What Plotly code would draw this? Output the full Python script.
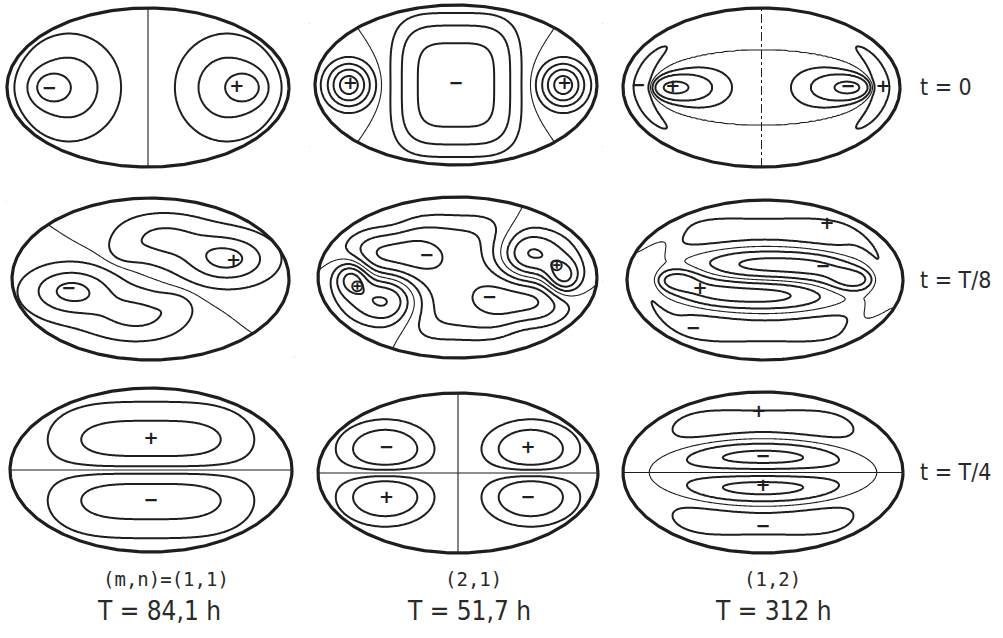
import numpy as np
import plotly.graph_objects as go

FIG_W, FIG_H = 1003, 638
INK = "#1e1e1e"

# ---------------------------------------------------------------------------
# Surface-elevation fields of the three basin modes, in normalised basin
# coordinates (u, v): the shoreline is u^2 + v^2 = 1.
# Lobe terms: (u0, v0, su, sv, angle_deg, pu, pv, amplitude)
# Ring terms (near-shore bands): (r0, width, theta0_deg, theta_width_deg, amplitude)
# ---------------------------------------------------------------------------

# mode (m,n) = (1,1)
M11_T0_LOBES = [(-0.70, 0.0, 0.13, 0.20, 0, 2, 2, -0.60),
                (-0.56, 0.0, 0.30, 0.55, 0, 2, 2, -0.55),
                (0.70, 0.0, 0.13, 0.20, 0, 2, 2, 0.60),
                (0.56, 0.0, 0.30, 0.55, 0, 2, 2, 0.55)]
M11_T8_LOBES = [(0.55, 0.25, 0.26, 0.25, -20, 2, 2, 0.80),
                (0.10, 0.50, 0.30, 0.25, -10, 2, 2, 0.45),
                (-0.18, 0.35, 0.12, 0.15, 0, 2, 2, 0.15),
                (0.40, 0.30, 0.60, 0.50, 0, 2, 2, 0.10),
                (-0.57, -0.15, 0.26, 0.25, -20, 2, 2, -0.80),
                (-0.10, -0.45, 0.30, 0.25, -10, 2, 2, -0.45),
                (0.18, -0.33, 0.12, 0.15, 0, 2, 2, -0.15),
                (-0.40, -0.30, 0.60, 0.50, 0, 2, 2, -0.10)]
M11_T4_LOBES = [(0.0, 0.36, 0.63, 0.36, 0, 3.5, 2, 1.0),
                (0.0, -0.36, 0.63, 0.36, 0, 3.5, 2, -1.0)]

# mode (2,1)
M21_T0_LOBES = [(0.0, 0.0, 0.394, 0.76, 0, 4, 4, -1.0),
                (-0.76, 0.0, 0.124, 0.219, 0, 2, 2, 1.3),
                (0.76, 0.0, 0.124, 0.219, 0, 2, 2, 1.3)]
M21_T4_LOBES = [(0.52, 0.29, 0.28, 0.30, 0, 2, 2, 1.0),
                (-0.52, 0.29, 0.28, 0.30, 0, 2, 2, -1.0),
                (-0.52, -0.29, 0.28, 0.30, 0, 2, 2, 1.0),
                (0.52, -0.29, 0.28, 0.30, 0, 2, 2, -1.0)]

# mode (1,2): nodal ellipse (semi-axes) crossing a straight nodal line
M12_T0_NODE = ("u", (0.82, 0.47))
M12_T0_W_IN = [(-0.72, 0.0, 0.20, 0.15, 0, 2, 2, 1.0),
               (-0.50, 0.0, 0.40, 0.40, 0, 2, 2, 0.35),
               (0.72, 0.0, 0.20, 0.15, 0, 2, 2, 1.0),
               (0.50, 0.0, 0.40, 0.40, 0, 2, 2, 0.35)]
M12_T0_W_OUT = [(-0.72, 0.0, 0.20, 0.15, 0, 2, 2, 0.10),
                (-0.50, 0.0, 0.40, 0.40, 0, 2, 2, 0.035),
                (0.72, 0.0, 0.20, 0.15, 0, 2, 2, 0.10),
                (0.50, 0.0, 0.40, 0.40, 0, 2, 2, 0.035)]
M12_T0_RINGS = [(0.86, 0.07, 180, 42, -0.075),
                (0.86, 0.07, 0, 42, 0.075)]
M12_T4_NODE = ("v", (0.81, 0.42))
M12_T4_W_IN = [(0.0, 0.0, 0.80, 0.40, 0, 4, 2, 1.0)]
M12_T4_W_OUT = [(0.0, 0.0, 0.66, 0.40, 0, 4, 2, 1.0)]

# weights of the t=0 and t=T/4 patterns in the t=T/8 state
MIX_21 = (1.0, 0.9)
MIX_12 = (1.0, 0.8)

# contour levels (thin zero line drawn separately)
LEV_11_T0 = [-0.70, -0.35, -0.12, 0.12, 0.35, 0.70]
LEV_21_T0 = [-0.80, -0.40, -0.14, 0.10, 0.30, 0.60, 1.00]
LEV_12_T0 = [-0.23, -0.10, -0.045, 0.045, 0.10, 0.23]
LEV_11_T8 = [-0.75, -0.40, -0.12, 0.12, 0.40, 0.75]
LEV_21_T8 = [-0.80, -0.50, -0.25, 0.25, 0.50, 0.80]
LEV_12_T8 = [-0.65, -0.30, 0.30, 0.65]
LEV_11_T4 = [-0.64, -0.18, 0.18, 0.64]
LEV_21_T4 = [-0.50, -0.20, 0.20, 0.50]
LEV_12_T4 = [-0.10, -0.045, 0.045, 0.10]

# sign marks: (u, v, text)
SIGNS = [
    [[(-0.70, -0.02, "−"), (0.63, 0.0, "+")],
     [(-0.75, 0.0, "+"), (0.0, 0.0, "−"), (0.77, 0.0, "+")],
     [(-0.89, 0.01, "−"), (-0.64, 0.0, "+"), (0.625, 0.0, "−"), (0.877, 0.0, "+")]],
    [[(0.60, 0.21, "+"), (-0.59, -0.13, "−")],
     [(-0.72, -0.13, "⊕"), (0.71, 0.14, "⊕"), (-0.22, 0.255, "−"), (0.23, -0.255, "−")],
     [(0.45, 0.69, "+"), (0.42, 0.15, "−"), (-0.47, -0.125, "+"), (-0.52, -0.625, "−")]],
    [[(0.0, 0.37, "+"), (0.0, -0.38, "−")],
     [(-0.51, 0.31, "−"), (0.50, 0.31, "+"), (-0.51, -0.32, "+"), (0.50, -0.32, "−")],
     [(-0.03, 0.74, "+"), (0.0, 0.19, "−"), (0.0, -0.18, "+"), (0.0, -0.68, "−")]],
]

ROW_LABELS = ["t = 0", "t = T/8", "t = T/4"]
MODE_LABELS = ["(m,n)=(1,1)", "(2,1)", "(1,2)"]
PERIOD_LABELS = ["T = 84,1 h", "T = 51,7 h", "T = 312 h"]

# ---------------------------------------------------------------------------
# layout: pixel boxes (left, right, top, bottom) of each basin outline
# ---------------------------------------------------------------------------
PANEL_BOXES = [
    [(7, 289, 8, 167), (315, 597, 5, 165), (623, 900, 8, 167)],
    [(12, 289, 198, 360), (318, 597, 197, 358), (627, 903, 200, 360)],
    [(10, 292, 388, 552), (318, 598, 393, 553), (623, 903, 392, 553)],
]
R = 1.04
U = np.linspace(-R, R, 212)
V = np.linspace(-R, R, 140)
UU, VV = np.meshgrid(U, V)
INSIDE = UU**2 + VV**2 <= 1.0


def lobes(spec):
    out = np.zeros_like(UU)
    for u0, v0, su, sv, ang, pu, pv, amp in spec:
        t = np.deg2rad(ang)
        du, dv = UU - u0, VV - v0
        x = (du * np.cos(t) + dv * np.sin(t)) / su
        y = (-du * np.sin(t) + dv * np.cos(t)) / sv
        out += amp * np.exp(-(np.abs(x) ** pu + np.abs(y) ** pv))
    return out


def rings(spec):
    out = np.zeros_like(UU)
    r = np.hypot(UU, VV)
    th = np.degrees(np.arctan2(VV, UU))
    for r0, wr, th0, wth, amp in spec:
        d = (th - th0 + 180.0) % 360.0 - 180.0
        out += amp * np.exp(-((r - r0) / wr) ** 2 - (np.abs(d) / wth) ** 4)
    return out


def nodal(node, w_in, w_out):
    axis, (a0, b0) = node
    q = 1.0 - (UU / a0) ** 2 - (VV / b0) ** 2
    s = UU if axis == "u" else VV
    w = np.where(q > 0, lobes(w_in), lobes(w_out))
    return -s * q * w


def normalised(f):
    return f / np.abs(f[INSIDE]).max()


def mix(f0, f4, w):
    return normalised(w[0] * normalised(f0) + w[1] * normalised(f4))


F11_T0 = lobes(M11_T0_LOBES)
F11_T8 = lobes(M11_T8_LOBES)
F11_T4 = lobes(M11_T4_LOBES)
F21_T0 = lobes(M21_T0_LOBES)
F21_T4 = lobes(M21_T4_LOBES)
F12_T0 = nodal(M12_T0_NODE, M12_T0_W_IN, M12_T0_W_OUT) + rings(M12_T0_RINGS)
F12_T4 = nodal(M12_T4_NODE, M12_T4_W_IN, M12_T4_W_OUT)

FIELDS = [
    [F11_T0, F21_T0, F12_T0],
    [F11_T8, mix(F21_T0, F21_T4, MIX_21), mix(F12_T0, F12_T4, MIX_12)],
    [F11_T4, F21_T4, F12_T4],
]
LEVELS = [
    [LEV_11_T0, LEV_21_T0, LEV_12_T0],
    [LEV_11_T8, LEV_21_T8, LEV_12_T8],
    [LEV_11_T4, LEV_21_T4, LEV_12_T4],
]
# zero line of the (1,2) t=0 field away from its straight (dash-dot) nodal line
ZERO_FIELDS = [[F11_T0, F21_T0, F12_T0 / UU],
               [FIELDS[1][0], FIELDS[1][1], FIELDS[1][2]],
               [F11_T4, F21_T4, F12_T4]]


def level_index(f, levels):
    """Piecewise-linear relabelling so that the chosen levels become 0, 1, 2, ..."""
    lv = sorted(levels)
    n = len(lv)
    d0, d1 = lv[1] - lv[0], lv[-1] - lv[-2]
    xs = [lv[0] - 1e3 * d0] + lv + [lv[-1] + 1e3 * d1]
    ys = [-1e3] + list(range(n)) + [n - 1 + 1e3]
    return np.interp(f, xs, ys), n


fig = go.Figure()
layout_axes = {}
shapes = []
theta = np.linspace(0, 2 * np.pi, 361)

for r in range(3):
    for c in range(3):
        k = r * 3 + c + 1
        xa = "x" if k == 1 else f"x{k}"
        ya = "y" if k == 1 else f"y{k}"
        left, right, top, bottom = PANEL_BOXES[r][c]
        cx, cy = (left + right) / 2, (top + bottom) / 2
        a, b = (right - left) / 2, (bottom - top) / 2
        layout_axes["xaxis" if k == 1 else f"xaxis{k}"] = dict(
            domain=[(cx - R * a) / FIG_W, (cx + R * a) / FIG_W],
            range=[-R, R], visible=False, fixedrange=True, anchor=ya)
        layout_axes["yaxis" if k == 1 else f"yaxis{k}"] = dict(
            domain=[1 - (cy + R * b) / FIG_H, 1 - (cy - R * b) / FIG_H],
            range=[-R, R], visible=False, fixedrange=True, anchor=xa)

        z, n = level_index(FIELDS[r][c], LEVELS[r][c])
        fig.add_trace(go.Contour(
            x=U, y=V, z=np.round(z, 4), xaxis=xa, yaxis=ya,
            autocontour=False,
            contours=dict(start=0, end=n - 1, size=1, coloring="none"),
            line=dict(color=INK, width=2.0, smoothing=1.0),
            showscale=False, hoverinfo="skip"))
        fig.add_trace(go.Contour(
            x=U, y=V, z=np.round(ZERO_FIELDS[r][c], 7), xaxis=xa, yaxis=ya,
            autocontour=False,
            contours=dict(start=0, end=0, size=1, coloring="none"),
            line=dict(color=INK, width=1.1, smoothing=1.0),
            showscale=False, hoverinfo="skip"))

        # white cover outside the shoreline
        m = 1.3
        mu = [m, m, -m, -m, m, m, 1.0] + list(np.cos(-theta)) + [1.0, m]
        mv = [0, m, m, -m, -m, 0, 0.0] + list(np.sin(-theta)) + [0.0, 0]
        fig.add_trace(go.Scatter(x=mu, y=mv, xaxis=xa, yaxis=ya, mode="lines",
                                 fill="toself", fillcolor="white",
                                 line=dict(color="white", width=1),
                                 hoverinfo="skip", showlegend=False))
        # shoreline
        fig.add_trace(go.Scatter(x=np.cos(theta), y=np.sin(theta), xaxis=xa, yaxis=ya,
                                 mode="lines", line=dict(color=INK, width=3.2),
                                 hoverinfo="skip", showlegend=False))
        # sign marks
        su_, sv_, st_ = zip(*SIGNS[r][c])
        fig.add_trace(go.Scatter(x=su_, y=sv_, xaxis=xa, yaxis=ya, mode="text",
                                 text=[f"<b>{s}</b>" for s in st_],
                                 textfont=dict(family="DejaVu Sans", size=18, color=INK),
                                 hoverinfo="skip", showlegend=False))

# straight nodal line of the (1,2) mode at t = 0
shapes.append(dict(type="line", xref="x3", yref="y3", x0=0, x1=0, y0=-1, y1=1,
                   line=dict(color=INK, width=1, dash="dashdot")))

NARROW = "DejaVu Sans Condensed, DejaVu Sans, sans-serif"
MONO = "DejaVu Sans Mono, Liberation Mono, monospace"
annotations = []
for r, txt in enumerate(ROW_LABELS):
    top, bottom = PANEL_BOXES[r][2][2], PANEL_BOXES[r][2][3]
    annotations.append(dict(text=txt, xref="paper", yref="paper",
                            x=918 / FIG_W, y=1 - ((top + bottom) / 2) / FIG_H,
                            xanchor="left", yanchor="middle", showarrow=False,
                            font=dict(family=NARROW, size=23, color="#2a2a2a")))
MODE_X = [166, 473, 772]
PERIOD_X = [159, 469, 773]
for i in range(3):
    annotations.append(dict(text=MODE_LABELS[i], xref="paper", yref="paper",
                            x=MODE_X[i] / FIG_W, y=1 - 579 / FIG_H,
                            xanchor="center", yanchor="middle", showarrow=False,
                            font=dict(family=MONO, size=19, color="#2a2a2a")))
    annotations.append(dict(text=PERIOD_LABELS[i], xref="paper", yref="paper",
                            x=PERIOD_X[i] / FIG_W, y=1 - 611 / FIG_H,
                            xanchor="center", yanchor="middle", showarrow=False,
                            font=dict(family=NARROW, size=26, color="#2a2a2a")))

fig.update_layout(width=FIG_W, height=FIG_H, margin=dict(l=0, r=0, t=0, b=0),
                  paper_bgcolor="white", plot_bgcolor="rgba(0,0,0,0)",
                  showlegend=False, shapes=shapes, annotations=annotations,
                  **layout_axes)
fig.write_html("out.html")
